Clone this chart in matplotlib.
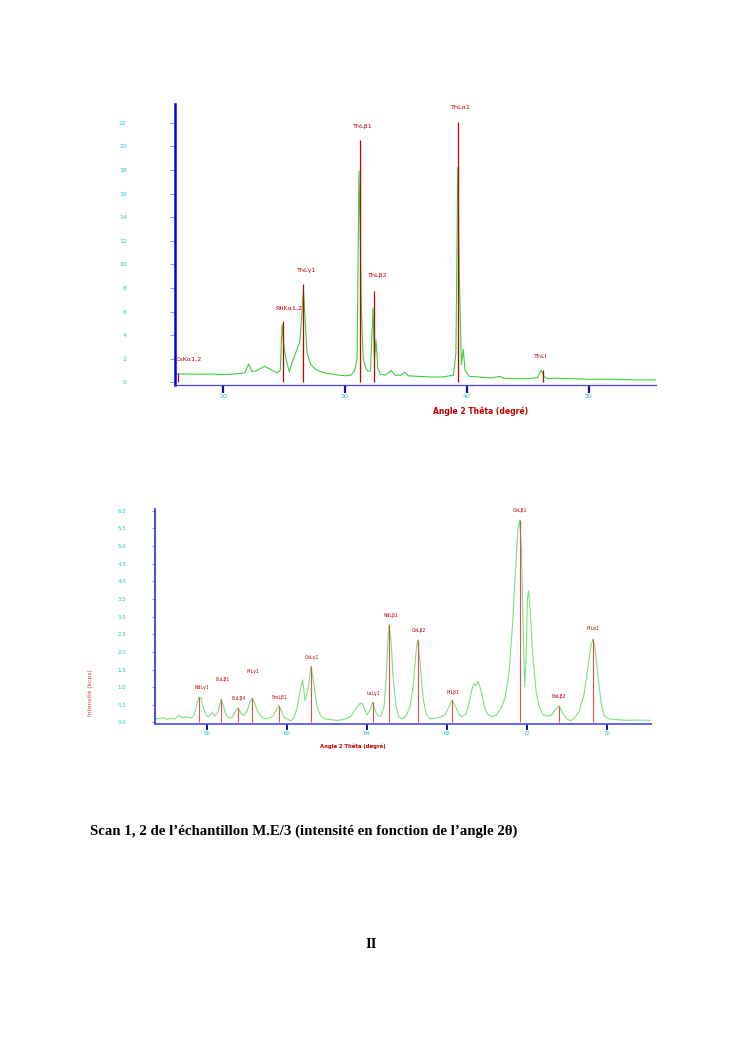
import matplotlib
matplotlib.use('Agg')
import matplotlib.pyplot as plt

# ---- scan 1 (top) ----
scan1_angle = [16.1, 17.0, 18.0, 19.0, 20.0, 21.0, 21.8, 22.1, 22.4, 22.8, 23.4, 23.9, 24.4, 24.7,
               24.85, 25.0, 25.2, 25.45, 25.7, 25.9, 26.1, 26.3, 26.45, 26.6, 26.75, 26.9, 27.2,
               27.6, 28.0, 28.5, 29.0, 29.5, 30.0, 30.5, 30.8, 31.0, 31.15, 31.25, 31.35, 31.5,
               31.7, 31.9, 32.1, 32.3, 32.42, 32.55, 32.7, 32.9, 33.3, 33.8, 34.1, 34.6, 34.9,
               35.2, 36.0, 37.0, 38.0, 38.9, 39.1, 39.25, 39.4, 39.55, 39.7, 39.85, 40.2, 41.0,
               42.0, 42.7, 43.0, 44.0, 45.0, 45.8, 46.1, 46.3, 46.6, 47.5, 48.0, 49.0, 50.0,
               52.0, 54.0, 55.5]
scan1_int = [0.7, 0.7, 0.68, 0.7, 0.65, 0.7, 0.8, 1.55, 0.9, 1.0, 1.35, 1.1, 0.8, 1.0,
             4.9, 3.0, 1.8, 0.9, 1.8, 2.3, 2.9, 3.4, 5.5, 7.8, 5.0, 2.5, 1.5,
             1.1, 0.9, 0.75, 0.7, 0.6, 0.55, 0.6, 1.0, 2.0, 17.9, 13.0, 6.0, 2.0,
             1.2, 0.9, 1.0, 6.3, 2.0, 3.6, 1.2, 0.7, 0.6, 1.0, 0.6, 0.6, 0.85,
             0.55, 0.5, 0.45, 0.45, 0.6, 2.5, 18.2, 8.0, 1.5, 2.8, 1.0, 0.5, 0.45,
             0.35, 0.5, 0.35, 0.3, 0.3, 0.4, 1.05, 0.5, 0.3, 0.35, 0.3, 0.3, 0.25,
             0.25, 0.2, 0.2]

scan1_lines = ['CsKα1,2', 'RhKα1,2', 'ThLγ1', 'ThLβ1', 'ThLβ2', 'ThLα1', 'ThLl']
scan1_line_pos = [16.3, 24.94, 26.6, 31.2, 32.4, 39.3, 46.2]
scan1_line_height = [0.8, 5.2, 8.3, 20.5, 7.7, 22.1, 1.0]
scan1_label_x = [16.15, 25.4, 26.8, 31.43, 32.6, 39.43, 46.0]
scan1_label_y = [1.75, 6.1, 9.3, 21.5, 8.8, 23.1, 1.95]

scan1_xticks = [20, 30, 40, 50]
scan1_yticks = [0, 2, 4, 6, 8, 10, 12, 14, 16, 18, 20, 22]

# ---- scan 2 (bottom) ----
scan2_angle = [53.4, 53.6, 53.8, 54.0, 54.2, 54.4, 54.6, 54.8, 55.0, 55.2, 55.35, 55.5, 55.6,
               55.7, 55.8, 55.95, 56.1, 56.25, 56.4, 56.55, 56.7, 56.8, 56.95, 57.1, 57.25,
               57.4, 57.55, 57.7, 57.85, 58.0, 58.15, 58.25, 58.35, 58.5, 58.7, 58.9, 59.1,
               59.3, 59.5, 59.6, 59.7, 59.85, 60.0, 60.2, 60.35, 60.5, 60.65, 60.78, 60.9,
               61.05, 61.2, 61.35, 61.5, 61.7, 61.9, 62.2, 62.5, 62.8, 63.0, 63.2, 63.4,
               63.6, 63.75, 63.9, 64.0, 64.15, 64.28, 64.4, 64.55, 64.7, 64.85, 64.95, 65.05,
               65.1, 65.2, 65.3, 65.45, 65.6, 65.75, 65.95, 66.15, 66.3, 66.45, 66.53, 66.65,
               66.8, 66.95, 67.15, 67.4, 67.65, 67.9, 68.1, 68.25, 68.4, 68.6, 68.75, 68.95,
               69.1, 69.25, 69.35, 69.45, 69.55, 69.7, 69.85, 70.0, 70.2, 70.45, 70.7, 70.9,
               71.1, 71.3, 71.45, 71.55, 71.63, 71.72, 71.8, 71.88, 71.95, 72.02, 72.08, 72.15,
               72.3, 72.45, 72.6, 72.8, 73.0, 73.2, 73.4, 73.6, 73.75, 73.95, 74.17, 74.35,
               74.6, 74.85, 75.05, 75.2, 75.3, 75.4, 75.55, 75.7, 75.85, 76.1, 76.5, 77.0,
               77.5, 78.2]
scan2_int = [0.12, 0.10, 0.14, 0.09, 0.12, 0.10, 0.20, 0.13, 0.16, 0.12, 0.20, 0.55, 0.72,
             0.70, 0.45, 0.20, 0.17, 0.28, 0.18, 0.30, 0.67, 0.50, 0.22, 0.12, 0.15,
             0.30, 0.42, 0.25, 0.20, 0.32, 0.58, 0.69, 0.60, 0.35, 0.18, 0.10, 0.12,
             0.18, 0.40, 0.48, 0.35, 0.15, 0.10, 0.05, 0.15, 0.40, 0.90, 1.21, 0.62,
             0.95, 1.59, 1.05, 0.45, 0.18, 0.10, 0.08, 0.06, 0.08, 0.12, 0.18, 0.35,
             0.52, 0.55, 0.35, 0.22, 0.35, 0.58, 0.35, 0.18, 0.17, 0.45, 1.20, 2.40,
             2.77, 2.30, 1.30, 0.45, 0.15, 0.10, 0.18, 0.45, 1.00, 2.00, 2.34, 1.70,
             0.70, 0.25, 0.10, 0.12, 0.15, 0.22, 0.45, 0.64, 0.48, 0.22, 0.17, 0.25,
             0.55, 0.95, 1.10, 1.05, 1.16, 0.90, 0.50, 0.25, 0.17, 0.20, 0.40, 0.70,
             1.40, 3.00, 4.60, 5.50, 5.74, 4.90, 2.80, 1.02, 1.80, 3.50, 3.73, 3.20,
             1.80, 0.90, 0.45, 0.22, 0.18, 0.20, 0.35, 0.48, 0.30, 0.12, 0.05, 0.12,
             0.30, 0.80, 1.60, 2.20, 2.37, 2.10, 1.30, 0.55, 0.20, 0.10, 0.08, 0.06,
             0.07, 0.06]

scan2_lines = ['NdLγ1', 'EuLβ1', 'EuLβ4', 'PrLγ1', 'SmLβ1', 'CeLγ1', 'LaLγ1',
               'NdLβ1', 'CeLβ2', 'PrLβ1', 'CeLβ1', 'BaLβ2', 'PrLα1']
scan2_line_pos = [55.6, 56.68, 57.53, 58.25, 59.58, 61.2, 64.28,
                  65.1, 66.53, 68.25, 71.63, 73.6, 75.3]
scan2_line_height = [0.73, 0.67, 0.42, 0.69, 0.48, 1.59, 0.58,
                     2.77, 2.34, 0.64, 5.74, 0.48, 2.37]
scan2_label_x = [55.75, 56.77, 57.57, 58.3, 59.64, 61.23, 64.33,
                 65.17, 66.58, 68.28, 71.65, 73.6, 75.3]
scan2_label_y = [0.99, 1.21, 0.67, 1.44, 0.72, 1.85, 0.81,
                 3.02, 2.61, 0.86, 6.0, 0.74, 2.65]

scan2_xticks = [56, 60, 64, 68, 72, 76]
scan2_yticks = [0.0, 0.5, 1.0, 1.5, 2.0, 2.5, 3.0, 3.5, 4.0, 4.5, 5.0, 5.5, 6.0]

cyan = '#2bbfcf'

fig = plt.figure(figsize=(7.45, 10.53), dpi=100)

# top chart
ax1 = fig.add_axes([0.2349, 0.6344, 0.6456, 0.2669])
ax1.plot(scan1_angle, scan1_int, color='#3ccf3c', lw=0.8, zorder=2)
ax1.vlines(scan1_line_pos, 0, scan1_line_height, color='#c40000', lw=0.9, zorder=3)
for i, (name, x, y) in enumerate(zip(scan1_lines, scan1_label_x, scan1_label_y)):
    # first label sits right of the axis, others centred over their line
    ax1.text(x, y, name, color='#c00000', fontsize=4.6, ha='left' if i == 0 else 'center',
             va='bottom')
ax1.set_xlim(16.07, 55.5)
ax1.set_ylim(-0.23, 23.6)
ax1.set_xticks(scan1_xticks)
ax1.set_yticks(scan1_yticks)
ax1.set_xticklabels([str(v) for v in scan1_xticks])
ax1.set_yticklabels([str(v) for v in scan1_yticks])
ax1.tick_params(axis='y', direction='out', length=3.6, width=0.6, color='#8080e0',
                labelsize=4.5, labelcolor=cyan, pad=31)
ax1.tick_params(axis='x', direction='out', length=5.8, width=1.6, color='#1010b0',
                labelsize=4.5, labelcolor=cyan, pad=0.8)
for s in ['top', 'right']:
    ax1.spines[s].set_visible(False)
ax1.spines['left'].set_color('#0000e0')
ax1.spines['left'].set_linewidth(1.8)
ax1.spines['bottom'].set_color('#4040f0')
ax1.spines['bottom'].set_linewidth(0.9)
fig.text(481 / 745, 1 - 411 / 1053, 'Angle 2 Thêta (degré)', color='#c00000',
         fontsize=5.5, fontweight='bold', ha='center', va='center')

# bottom chart
ax2 = fig.add_axes([0.2081, 0.3122, 0.6658, 0.2045])
ax2.plot(scan2_angle, scan2_int, color='#7ee07e', lw=0.8, zorder=2)
ax2.vlines(scan2_line_pos, 0, scan2_line_height, color='#e05050', lw=0.8, zorder=3)
for name, x, y in zip(scan2_lines, scan2_label_x, scan2_label_y):
    ax2.text(x, y, name, color='#c00000', fontsize=3.3, ha='center', va='center')
ax2.set_xlim(53.4, 78.2)
ax2.set_ylim(-0.05, 6.05)
ax2.set_xticks(scan2_xticks)
ax2.set_yticks(scan2_yticks)
ax2.set_xticklabels([str(v) for v in scan2_xticks])
ax2.set_yticklabels([f'{v:.1f}' for v in scan2_yticks])
ax2.tick_params(axis='y', direction='out', length=2.2, width=0.6, color='#8080e0',
                labelsize=4.0, labelcolor=cyan, pad=18.5)
ax2.tick_params(axis='x', direction='out', length=4.3, width=1.4, color='#1010b0',
                labelsize=3.8, labelcolor=cyan, pad=0.6)
for s in ['top', 'right']:
    ax2.spines[s].set_visible(False)
ax2.spines['left'].set_color('#1a1ad0')
ax2.spines['left'].set_linewidth(1.1)
ax2.spines['bottom'].set_color('#5a5af0')
ax2.spines['bottom'].set_linewidth(1.3)
ax2.set_ylabel('Intensité (kcps)', color='#d04040', fontsize=4.3)
ax2.yaxis.set_label_coords((93 - 155) / 496, (724.3 - 693) / 215.3)
fig.text(353 / 745, 1 - 746 / 1053, 'Angle 2 Thêta (degré)', color='#c00000',
         fontsize=3.8, fontweight='bold', ha='center', va='center')

# caption and page number
fig.text(90 / 745, 1 - 831 / 1053,
         'Scan 1, 2 de l’échantillon M.E/3 (intensité en fonction de l’angle 2θ)',
         fontsize=10.7, fontweight='bold', family='Liberation Serif', ha='left', va='center')
fig.text(371 / 745, 1 - 945 / 1053, 'II', fontsize=10.7, fontweight='bold',
         family='Liberation Serif', ha='center', va='center')

fig.savefig('out.png', dpi=100)
